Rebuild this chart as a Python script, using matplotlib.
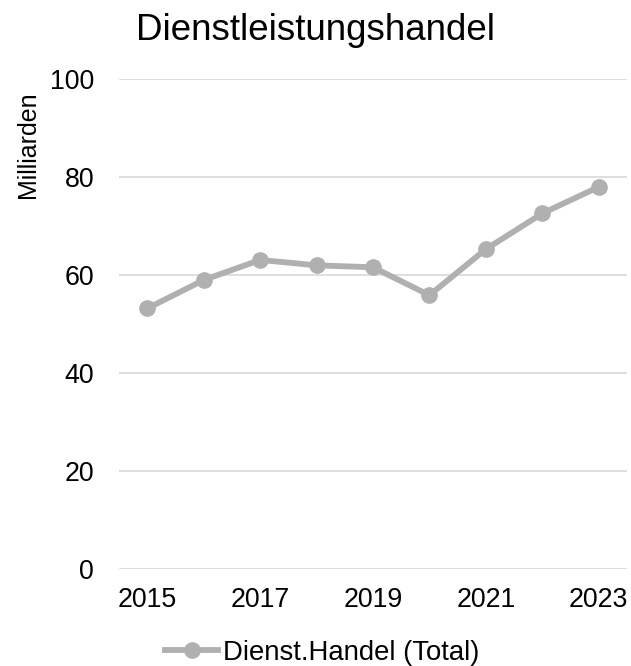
import matplotlib.pyplot as plt

plt.rcParams['font.family'] = ['Liberation Sans', 'DejaVu Sans']

# data
years = [2015, 2016, 2017, 2018, 2019, 2020, 2021, 2022, 2023]
dienst_handel = [53.2, 59.0, 63.1, 62.0, 61.6, 55.9, 65.3, 72.6, 78.0]
x_ticks = [2015, 2017, 2019, 2021, 2023]
y_ticks = [0, 20, 40, 60, 80, 100]

line_color = '#B0B0B0'
grid_color = '#D9D9D9'

fig = plt.figure(figsize=(6.31, 6.66), dpi=100)
ax = fig.add_axes([0.1886, 0.1456, 0.805, 0.7355])

ax.plot(years, dienst_handel, color=line_color, linewidth=4.2,
        marker='o', markersize=11, label='Dienst.Handel (Total)', zorder=3)

ax.set_xlim(2014.5, 2023.5)
ax.set_ylim(0, 100)
ax.set_xticks(x_ticks)
ax.set_yticks(y_ticks)
ax.yaxis.grid(True, color=grid_color, linewidth=1.2)
ax.set_axisbelow(True)
for s in ax.spines.values():
    s.set_visible(False)
ax.tick_params(axis='both', length=0, labelsize=19.3, colors='black')
ax.tick_params(axis='y', pad=18)
ax.tick_params(axis='x', pad=13)

fig.text(0.5, 1 - 31 / 666, 'Dienstleistungshandel', fontsize=26.5,
         ha='center', va='center')
fig.text(28 / 631, 1 - 145 / 666, 'Milliarden', fontsize=18,
         rotation=90, ha='center', va='center')

fig.legend(loc='center', bbox_to_anchor=(0.511, 1 - 653 / 666), frameon=False,
           fontsize=19.8, handlelength=1.9, handletextpad=0.2)

fig.savefig('out.png', dpi=100)
